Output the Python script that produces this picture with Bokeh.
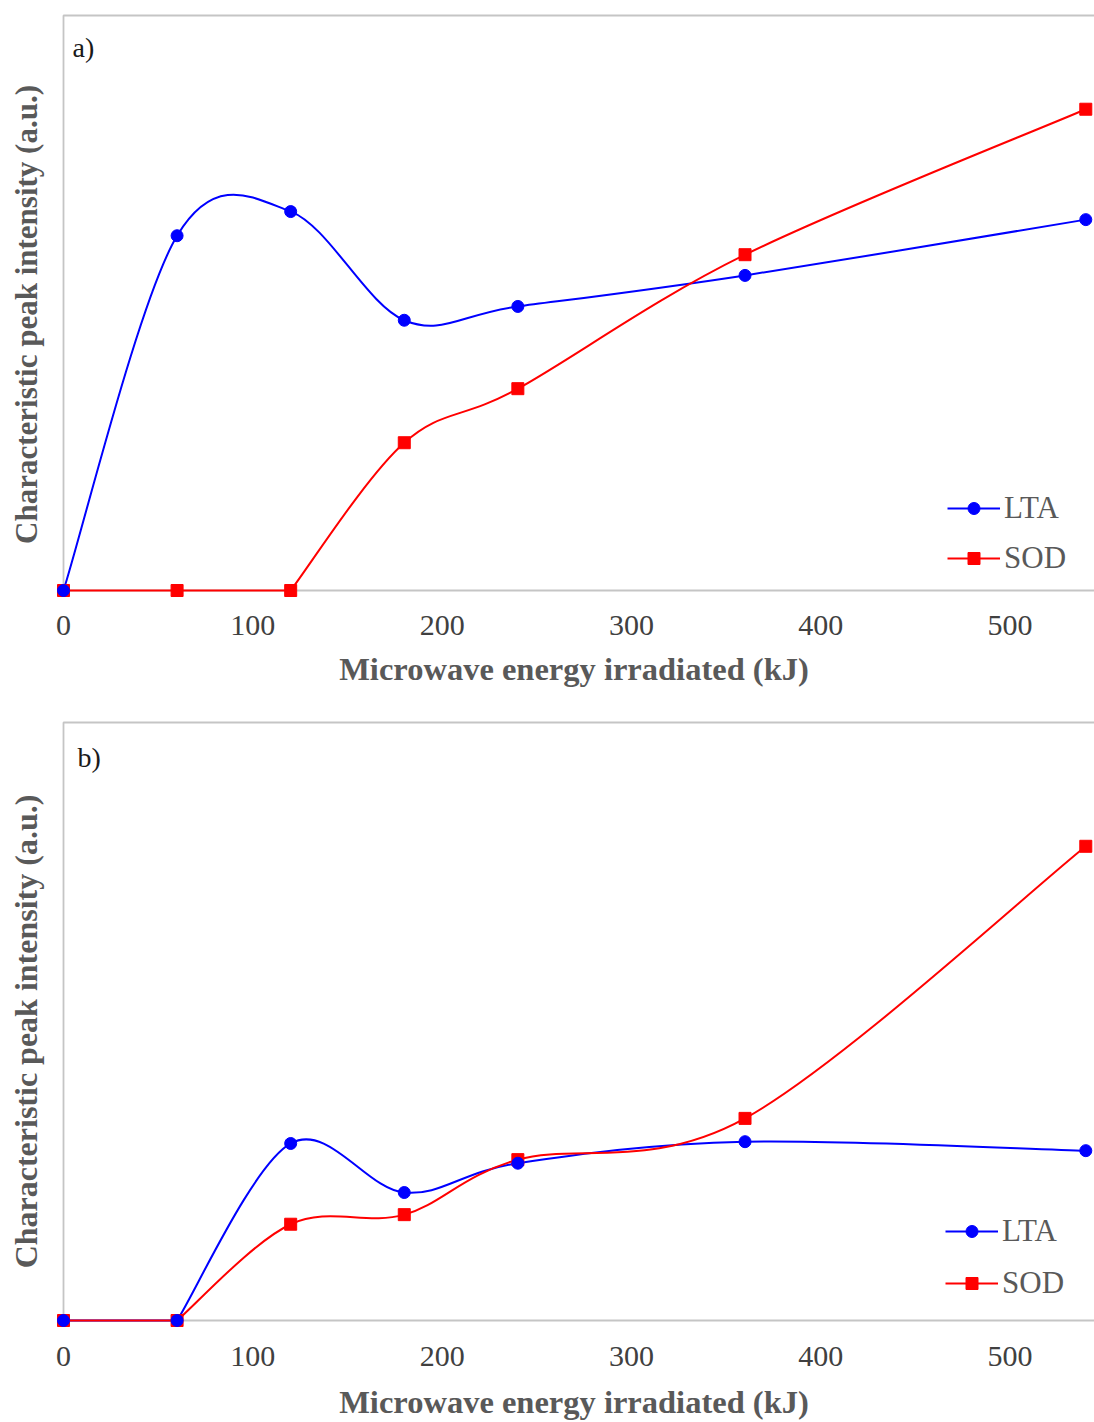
from bokeh.plotting import figure
from bokeh.layouts import column
from bokeh.models import (Range1d, FixedTicker, BoxAnnotation, Legend, LegendItem,
                          ColumnDataSource, Label)
from bokeh.embed import file_html
from bokeh.resources import INLINE

# Microwave energy irradiated (kJ)
energy = [0, 60, 120, 180, 240, 360, 540]

# Panel a) characteristic peak intensities (a.u., full scale = 100)
lta_a = [0.0, 61.7, 65.9, 47.0, 49.4, 54.8, 64.5]
sod_a = [0.0, 0.0, 0.0, 25.7, 35.1, 58.4, 83.7]

# Panel b)
lta_b = [0.0, 0.0, 29.6, 21.4, 26.3, 29.9, 28.4]
sod_b = [0.0, 0.0, 16.1, 17.7, 26.9, 33.8, 79.3]

x_ticks = [0, 100, 200, 300, 400, 500]
x_label = "Microwave energy irradiated (kJ)"
y_label = "Characteristic peak intensity (a.u.)"

FONT = "Liberation Serif"
BLUE = "#0000FF"
RED = "#FF0000"
X_MAX = 544.6
PX_PER_X = 1.892


def smooth_segments(xs, ys):
    """Bezier control points for a smoothed line through the points
    (Catmull-Rom style, flat runs kept straight)."""
    n = len(xs)
    keys = ("x0", "y0", "x1", "y1", "cx0", "cy0", "cx1", "cy1")
    out = {k: [] for k in keys}
    for i in range(n - 1):
        x0, y0, x1, y1 = xs[i], ys[i], xs[i + 1], ys[i + 1]
        if y0 == y1:
            c0 = (x0 + (x1 - x0) / 3, y0)
            c1 = (x1 - (x1 - x0) / 3, y1)
        else:
            if i == 0 or ys[i - 1] == y0:
                d0 = ((x1 - x0) / 6, (y1 - y0) / 6)
            else:
                d0 = ((x1 - xs[i - 1]) / 6, (y1 - ys[i - 1]) / 6)
            if i + 2 >= n or ys[i + 2] == y1:
                d1 = ((x1 - x0) / 6, (y1 - y0) / 6)
            else:
                d1 = ((xs[i + 2] - x0) / 6, (ys[i + 2] - y0) / 6)
            c0 = (x0 + d0[0], y0 + d0[1])
            c1 = (x1 - d1[0], y1 - d1[1])
        for k, v in zip(keys, (x0, y0, x1, y1, c0[0], c0[1], c1[0], c1[1])):
            out[k].append(v)
    return ColumnDataSource(out)


def panel(lta, sod, tag, height, border_top, px_per_y, pad_bottom, tick_standoff,
          label_standoff, ylabel_size, legend_loc, legend_spacing, tag_xy):
    pad_left, pad_top = 10, 2
    frame_h = 100 * px_per_y + pad_bottom + pad_top
    p = figure(width=1094, height=height, output_backend="svg", toolbar_location=None,
               x_range=Range1d(-pad_left / PX_PER_X, X_MAX),
               y_range=Range1d(-pad_bottom / px_per_y, 100 + pad_top / px_per_y),
               min_border_left=53, min_border_right=0, min_border_top=border_top,
               min_border_bottom=int(round(height - border_top - frame_h)))
    p.outline_line_color = None
    p.grid.visible = False
    p.background_fill_color = "white"
    p.border_fill_color = "white"

    # frame: left, top and bottom borders starting at the origin
    p.add_layout(BoxAnnotation(left=0, right=X_MAX * 1.2, bottom=0, top=100,
                               fill_alpha=0, line_color="#3f3f3f", line_width=1.8,
                               level="underlay"))

    xa = p.xaxis[0]
    xa.ticker = FixedTicker(ticks=x_ticks)
    xa.axis_line_color = None
    xa.major_tick_line_color = None
    xa.minor_tick_line_color = None
    xa.major_tick_out = 0
    xa.major_label_standoff = tick_standoff
    xa.major_label_text_font = FONT
    xa.major_label_text_font_size = "30px"
    xa.major_label_text_color = "#404040"
    xa.axis_label = x_label
    xa.axis_label_text_font = FONT
    xa.axis_label_text_font_size = "32.5px"
    xa.axis_label_text_font_style = "bold"
    xa.axis_label_text_color = "#595959"
    xa.axis_label_standoff = label_standoff

    ya = p.yaxis[0]
    ya.ticker = FixedTicker(ticks=[])
    ya.axis_line_color = None
    ya.major_tick_line_color = None
    ya.minor_tick_line_color = None
    ya.major_tick_out = 0
    ya.axis_label = y_label
    ya.axis_label_text_font = FONT
    ya.axis_label_text_font_size = ylabel_size
    ya.axis_label_text_font_style = "bold"
    ya.axis_label_text_color = "#595959"
    ya.axis_label_standoff = 10

    src_l = smooth_segments(energy, lta)
    src_s = smooth_segments(energy, sod)
    c_l = p.bezier("x0", "y0", "x1", "y1", "cx0", "cy0", "cx1", "cy1", source=src_l,
                   line_color=BLUE, line_width=2)
    c_s = p.bezier("x0", "y0", "x1", "y1", "cx0", "cy0", "cx1", "cy1", source=src_s,
                   line_color=RED, line_width=2)
    r_s = p.scatter(energy, sod, marker="square", size=12, fill_color=RED,
                    line_color=RED)
    r_l = p.scatter(energy, lta, marker="circle", size=12, fill_color=BLUE,
                    line_color=BLUE)

    legend = Legend(items=[LegendItem(label="LTA", renderers=[c_l, r_l]),
                           LegendItem(label="SOD", renderers=[c_s, r_s])],
                    location=legend_loc, orientation="vertical",
                    label_text_font=FONT, label_text_font_size="31px",
                    label_text_color="#595959", label_standoff=4,
                    glyph_width=53, glyph_height=30, label_height=30,
                    spacing=legend_spacing, padding=0, margin=0,
                    border_line_color=None, background_fill_alpha=0)
    p.add_layout(legend)

    p.add_layout(Label(x=tag_xy[0], y=tag_xy[1], x_units="screen", y_units="screen",
                       text=tag, text_font=FONT, text_font_size="28px",
                       text_color="#1a1a1a", text_baseline="middle"))
    return p


p1 = panel(lta_a, sod_a, "a)", 700, 13, 5.75, 25, 0, 13, "31px",
           (894, 39), 14, (19, 568))
p2 = panel(lta_b, sod_b, "b)", 722, 20, 5.98, 22, 4, 15, "32px",
           (892, 41), 16, (24, 585))

layout = column(p1, p2, spacing=0)
open("out.html", "w").write(file_html(layout, INLINE))
